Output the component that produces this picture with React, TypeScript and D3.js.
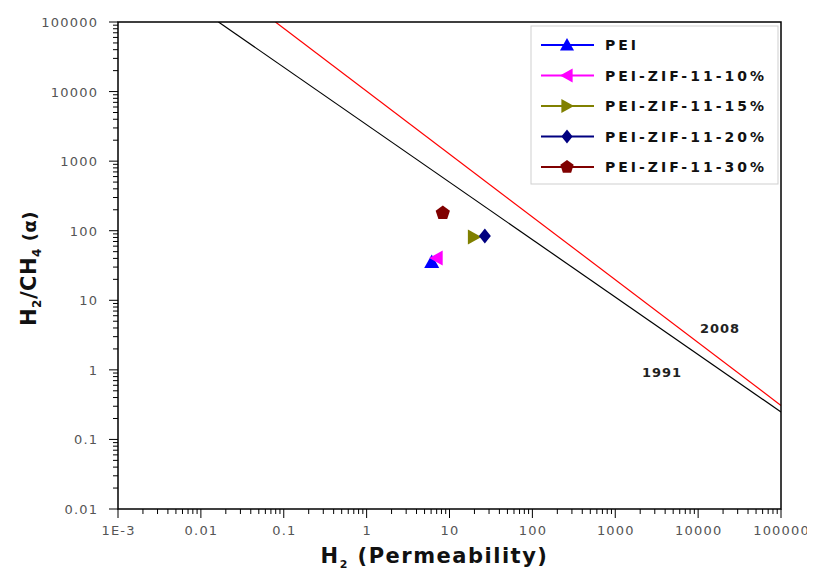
import * as d3 from "d3";

// Robeson upper bounds, read at the plot edges
const bound1991 = [
  { x: 0.0163, y: 100000 },
  { x: 100000, y: 0.248 },
];
const bound2008 = [
  { x: 0.0794, y: 100000 },
  { x: 100000, y: 0.308 },
];

const seriesNames = ["PEI", "PEI-ZIF-11-10%", "PEI-ZIF-11-15%", "PEI-ZIF-11-20%", "PEI-ZIF-11-30%"];
const seriesColors = ["#0000ff", "#ff00ff", "#808000", "#000080", "#800000"];
const seriesShapes = ["up", "left", "right", "diamond", "pentagon"];
const permeability = [6.1, 7.0, 19.7, 26.7, 8.3];
const selectivity = [35.5, 40.5, 81, 84, 180];

const xTicks = [0.001, 0.01, 0.1, 1, 10, 100, 1000, 10000, 100000];
const xTickLabels = ["1E-3", "0.01", "0.1", "1", "10", "100", "1000", "10000", "100000"];
const yTicks = [0.01, 0.1, 1, 10, 100, 1000, 10000, 100000];
const yTickLabels = ["0.01", "0.1", "1", "10", "100", "1000", "10000", "100000"];

const W = 815;
const H = 579;
const m = { left: 118, right: 34, top: 22, bottom: 70 };

function markerPath(shape: string, r: number) {
  if (shape === "up") return `M0,${-r}L${r},${r * 0.8}L${-r},${r * 0.8}Z`;
  if (shape === "left") return `M${-r},0L${r * 0.8},${-r}L${r * 0.8},${r}Z`;
  if (shape === "right") return `M${r},0L${-r * 0.8},${-r}L${-r * 0.8},${r}Z`;
  if (shape === "diamond") return `M0,${-r}L${r * 0.8},0L0,${r}L${-r * 0.8},0Z`;
  const pts = d3.range(5).map((i) => {
    const a = -Math.PI / 2 + (i * 2 * Math.PI) / 5;
    return [Math.cos(a) * r, Math.sin(a) * r];
  });
  return "M" + pts.map((p) => p.join(",")).join("L") + "Z";
}

export default function App() {
  const x = d3.scaleLog().domain([0.001, 100000]).range([m.left, W - m.right]);
  const y = d3.scaleLog().domain([0.01, 100000]).range([H - m.bottom, m.top]);
  const [x0, x1] = x.range();
  const [y0, y1] = y.range();

  const minorX: number[] = [];
  xTicks.slice(0, -1).forEach((t) => d3.range(2, 10).forEach((k) => minorX.push(t * k)));
  const minorY: number[] = [];
  yTicks.slice(0, -1).forEach((t) => d3.range(2, 10).forEach((k) => minorY.push(t * k)));

  const line = d3
    .line<{ x: number; y: number }>()
    .x((d) => x(d.x))
    .y((d) => y(d.y));

  const tickFont = "'DejaVu Sans', Verdana, sans-serif";
  const tickSpacing = 1.2;
  const legendX = 531;
  const legendY = 26;

  return (
    <svg width={W} height={H} style={{ display: "block", margin: -8 }}>
      <rect width={W} height={H} fill="#fff" />
      <defs>
        <clipPath id="plotClip">
          <rect x={x0} y={y1} width={x1 - x0} height={y0 - y1} />
        </clipPath>
      </defs>

      {/* bound lines */}
      <g clipPath="url(#plotClip)" fill="none">
        <path d={line(bound1991) ?? ""} stroke="#000" strokeWidth={1.2} />
        <path d={line(bound2008) ?? ""} stroke="#ff0000" strokeWidth={1.2} />
      </g>

      {/* frame */}
      <rect x={x0} y={y1} width={x1 - x0} height={y0 - y1} fill="none" stroke="#000" strokeWidth={1.5} />

      {/* ticks */}
      <g stroke="#000" strokeWidth={1}>
        {xTicks.map((t) => (
          <line key={"xm" + t} x1={x(t)} x2={x(t)} y1={y0} y2={y0 + 9} />
        ))}
        {minorX.map((t) => (
          <line key={"xn" + t} x1={x(t)} x2={x(t)} y1={y0} y2={y0 + 5} />
        ))}
        {yTicks.map((t) => (
          <line key={"ym" + t} x1={x0} x2={x0 - 9} y1={y(t)} y2={y(t)} />
        ))}
        {minorY.map((t) => (
          <line key={"yn" + t} x1={x0} x2={x0 - 5} y1={y(t)} y2={y(t)} />
        ))}
      </g>
      <g fontFamily={tickFont} fontSize={13} letterSpacing={tickSpacing} fill="#555">
        {xTicks.map((t, i) => (
          <text key={"xl" + t} x={x(t) + tickSpacing / 2} y={y0 + 26} textAnchor="middle">
            {xTickLabels[i]}
          </text>
        ))}
        {yTicks.map((t, i) => (
          <text key={"yl" + t} x={x0 - 21 + tickSpacing} y={y(t) + 5} textAnchor="end">
            {yTickLabels[i]}
          </text>
        ))}
      </g>

      {/* axis titles */}
      <text x={(x0 + x1) / 2 - 15} y={563} textAnchor="middle" fontFamily="'DejaVu Sans', sans-serif" fontWeight="bold" fontSize={21} letterSpacing={1.5} fill="#111">
        H<tspan fontSize={11} dy={5}>2</tspan>
        <tspan dy={-5}> (Permeability)</tspan>
      </text>
      <text transform={`translate(36, ${(y0 + y1) / 2 + 3}) rotate(-90)`} textAnchor="middle" fontFamily="'DejaVu Sans', sans-serif" fontWeight="bold" fontSize={21} letterSpacing={0.5} fill="#111">
        H<tspan fontSize={12} dy={5}>2</tspan>
        <tspan dy={-5}>/CH</tspan>
        <tspan fontSize={12} dy={5}>4</tspan>
        <tspan dy={-5} fontSize={18}> (α)</tspan>
      </text>

      {/* bound labels */}
      <g fontFamily="'DejaVu Sans', sans-serif" fontWeight="bold" fontSize={13} letterSpacing={1} fill="#222">
        <text x={720} y={333} textAnchor="middle">2008</text>
        <text x={662} y={377} textAnchor="middle">1991</text>
      </g>

      {/* data points */}
      <g>
        {seriesNames.map((n, i) => (
          <path
            key={n}
            d={markerPath(seriesShapes[i], 7.5)}
            transform={`translate(${x(permeability[i])},${y(selectivity[i])})`}
            fill={seriesColors[i]}
          />
        ))}
      </g>

      {/* legend */}
      <g>
        <rect x={legendX} y={legendY} width={247} height={158} fill="#fff" stroke="#cfcfcf" strokeWidth={1} />
        {seriesNames.map((n, i) => {
          const ly = legendY + 19 + i * 30.5;
          return (
            <g key={"lg" + n}>
              <line x1={541} x2={594} y1={ly} y2={ly} stroke={seriesColors[i]} strokeWidth={2} />
              <path d={markerPath(seriesShapes[i], 7)} transform={`translate(567,${ly})`} fill={seriesColors[i]} />
              <text x={605} y={ly + 5} fontFamily="'DejaVu Sans', Verdana, sans-serif" fontWeight="bold" fontSize={14} letterSpacing={3} fill="#111">
                {n}
              </text>
            </g>
          );
        })}
      </g>
    </svg>
  );
}
